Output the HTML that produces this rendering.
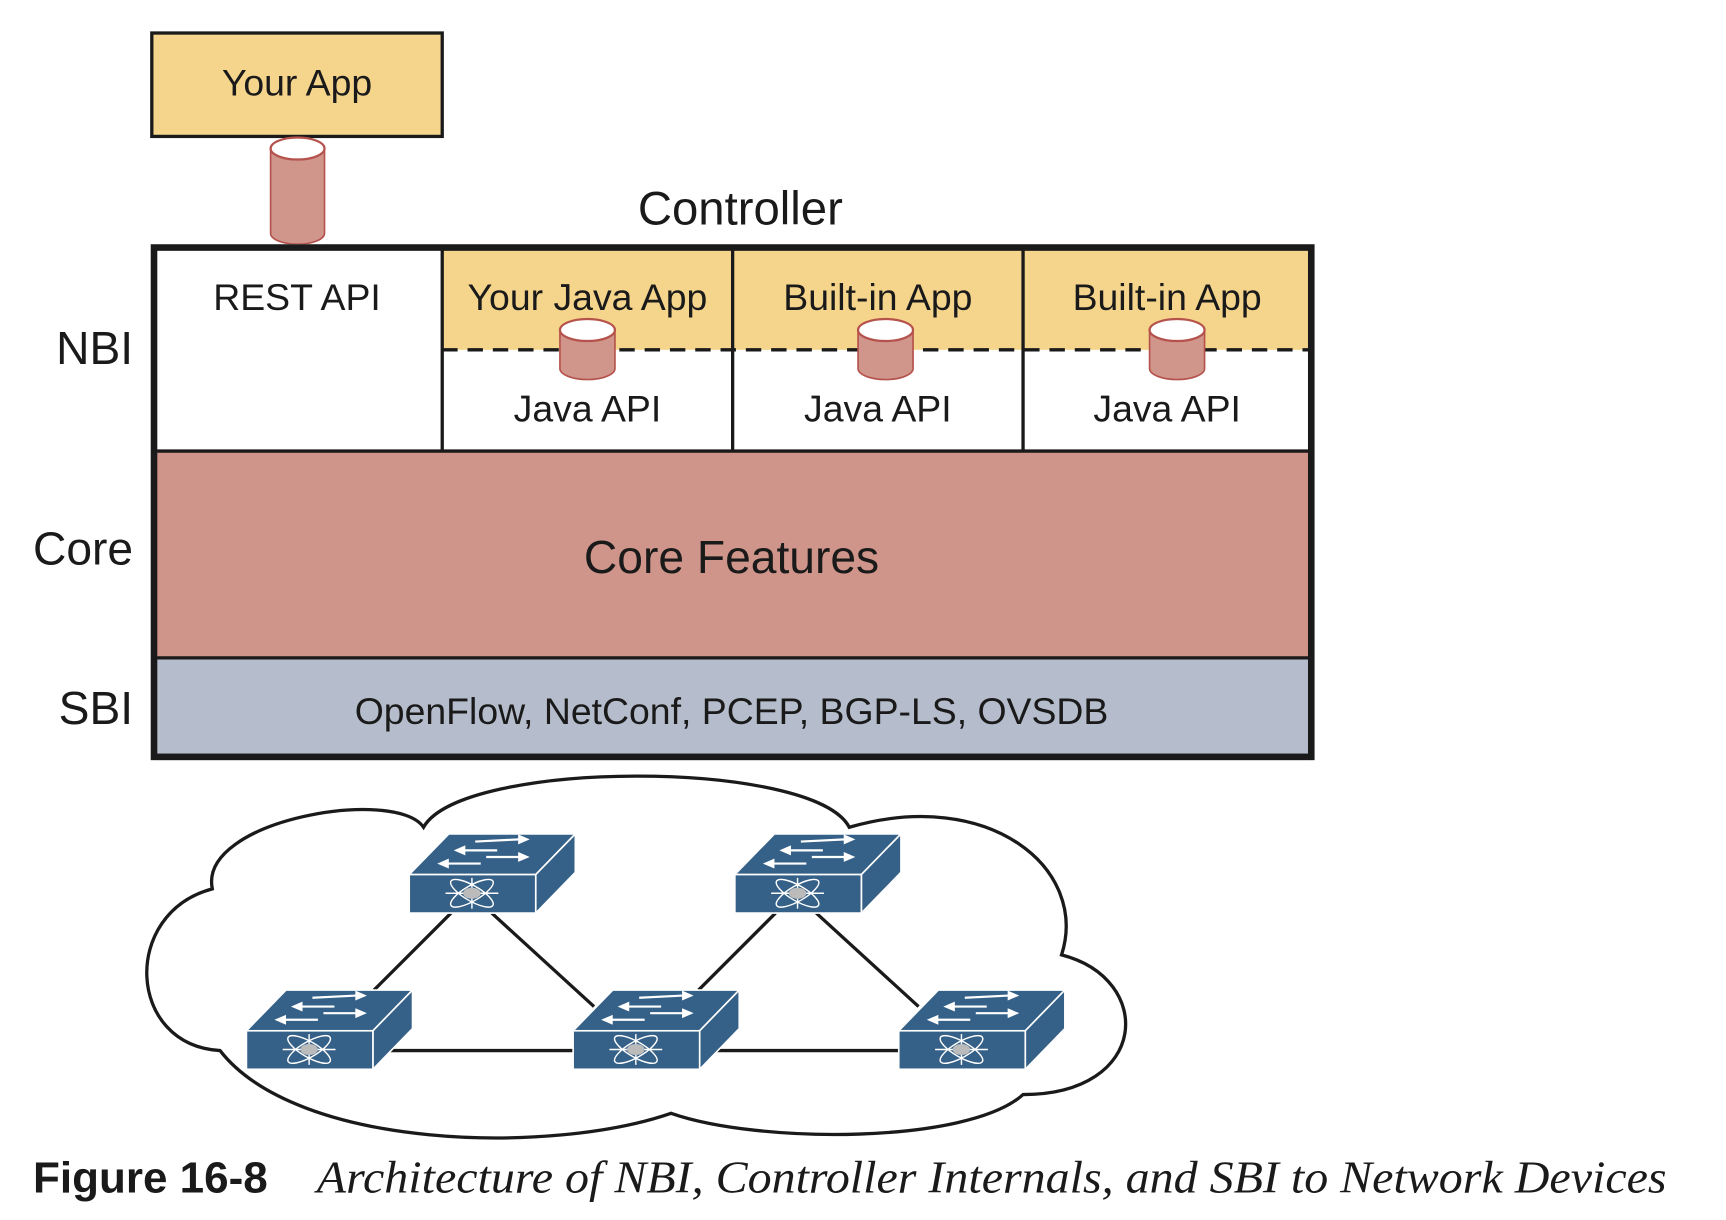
<!DOCTYPE html>
<html><head><meta charset="utf-8"><style>html,body{margin:0;padding:0;background:#fff}svg{display:block}</style></head>
<body>
<svg width="1726" height="1220" viewBox="0 0 1569 1109" xmlns="http://www.w3.org/2000/svg" font-family="Liberation Sans, sans-serif">
<defs>
<g id="sw">
  <polygon points="0,0 36,-37 151,-37 115,0" fill="#356087" stroke="#fff" stroke-width="1.5"/>
  <polygon points="115,0 151,-37 151,-2 115,35" fill="#356087" stroke="#fff" stroke-width="1.5"/>
  <rect x="0" y="0" width="115" height="35" fill="#356087" stroke="#fff" stroke-width="1.5"/>
  <g stroke="#fff" stroke-width="2" fill="#fff">
    <line x1="60" y1="-30" x2="100" y2="-32"/><polygon points="100,-35 107,-32 100,-29"/>
    <line x1="50" y1="-22" x2="80" y2="-22"/><polygon points="50,-25 43,-22 50,-19"/>
    <line x1="70" y1="-16" x2="100" y2="-16"/><polygon points="100,-19 107,-16 100,-13"/>
    <line x1="35" y1="-10" x2="65" y2="-10"/><polygon points="35,-13 28,-10 35,-7"/>
  </g>
  <g stroke="#fff" stroke-width="1.3" fill="none">
    <ellipse cx="57" cy="17" rx="22" ry="7" transform="rotate(30 57 17)"/>
    <ellipse cx="57" cy="17" rx="22" ry="7" transform="rotate(-30 57 17)"/>
    <line x1="33" y1="17" x2="81" y2="17"/><line x1="57" y1="3" x2="57" y2="31"/>
  </g>
  <ellipse cx="57" cy="17" rx="8" ry="5" fill="#bbb"/>
</g>
</defs>
<rect x="138" y="30" width="264" height="94" fill="#f5d58c" stroke="#1a1a1a" stroke-width="3"/>
<text x="270" y="87" font-size="34" text-anchor="middle" fill="#1a1a1a">Your App</text>
<path d="M246,135 L246,212 A24.5,10 0 0 0 295,212 L295,135 Z" fill="#d0958b" stroke="#b5524c" stroke-width="1.5"/>
<ellipse cx="270.5" cy="135" rx="24.5" ry="10" fill="#fff" stroke="#b5524c" stroke-width="2"/>
<text x="673" y="204" font-size="43" text-anchor="middle" fill="#1a1a1a">Controller</text>
<rect x="137" y="222" width="1058" height="469" fill="#fff"/>
<rect x="402" y="225" width="792" height="93" fill="#f5d58c"/>
<rect x="140" y="410" width="1052" height="188" fill="#cf958a"/>
<rect x="140" y="598" width="1052" height="93" fill="#b5bccb"/>
<line x1="402" y1="318" x2="1194" y2="318" stroke="#1a1a1a" stroke-width="3" stroke-dasharray="14,9"/>
<g stroke="#1a1a1a" stroke-width="3">
<line x1="402" y1="225" x2="402" y2="410"/><line x1="666" y1="225" x2="666" y2="410"/><line x1="930" y1="225" x2="930" y2="410"/>
<line x1="140" y1="410" x2="1194" y2="410"/><line x1="140" y1="598" x2="1194" y2="598"/>
</g>
<rect x="140" y="225" width="1052" height="463" fill="none" stroke="#1a1a1a" stroke-width="6"/>
<g font-size="34" text-anchor="middle" fill="#1a1a1a">
<text x="270" y="282">REST API</text>
<text x="534" y="282">Your Java App</text>
<text x="798" y="282">Built-in App</text>
<text x="1061" y="282">Built-in App</text>
<text x="534" y="383">Java API</text>
<text x="798" y="383">Java API</text>
<text x="1061" y="383">Java API</text>
<text x="665" y="658">OpenFlow, NetConf, PCEP, BGP-LS, OVSDB</text>
</g>
<text x="665" y="521" font-size="42" text-anchor="middle" fill="#1a1a1a">Core Features</text>
<g font-size="42" text-anchor="end" fill="#1a1a1a">
<text x="121" y="331">NBI</text><text x="121" y="513">Core</text><text x="121" y="658">SBI</text>
</g>
<g stroke="#b5524c" stroke-width="1.5" fill="#d0958b">
<path d="M509,300 L509,335 A25,10 0 0 0 559,335 L559,300 Z"/><ellipse cx="534" cy="300" rx="25" ry="10" fill="#fff" stroke-width="2"/>
<path d="M780,300 L780,335 A25,10 0 0 0 830,335 L830,300 Z"/><ellipse cx="805" cy="300" rx="25" ry="10" fill="#fff" stroke-width="2"/>
<path d="M1045,300 L1045,335 A25,10 0 0 0 1095,335 L1095,300 Z"/><ellipse cx="1070" cy="300" rx="25" ry="10" fill="#fff" stroke-width="2"/>
</g>
<path d="M193,808 C180,745 360,715 385,752 C420,690 740,690 772,752 C900,715 990,790 965,868 C1050,890 1045,995 930,995 C880,1040 690,1040 610,1012 C500,1050 270,1045 200,955 C115,950 110,830 193,808 Z" fill="#fff" stroke="#1a1a1a" stroke-width="3"/>
<g stroke="#1a1a1a" stroke-width="3">
<line x1="410" y1="830" x2="340" y2="900"/><line x1="447" y1="830" x2="540" y2="915"/>
<line x1="705" y1="830" x2="635" y2="900"/><line x1="742" y1="830" x2="835" y2="915"/>
<line x1="339" y1="955" x2="521" y2="955"/><line x1="636" y1="955" x2="817" y2="955"/>
</g>
<use href="#sw" x="372" y="795"/>
<use href="#sw" x="668" y="795"/>
<use href="#sw" x="224" y="937"/>
<use href="#sw" x="521" y="937"/>
<use href="#sw" x="817" y="937"/>
<text x="30" y="1084" font-size="40" font-weight="bold" fill="#1a1a1a">Figure 16-8</text>
<text x="288" y="1084" font-size="41" font-style="italic" font-family="Liberation Serif, serif" fill="#1a1a1a" textLength="1227" lengthAdjust="spacingAndGlyphs">Architecture of NBI, Controller Internals, and SBI to Network Devices</text>
</svg>
</body></html>
